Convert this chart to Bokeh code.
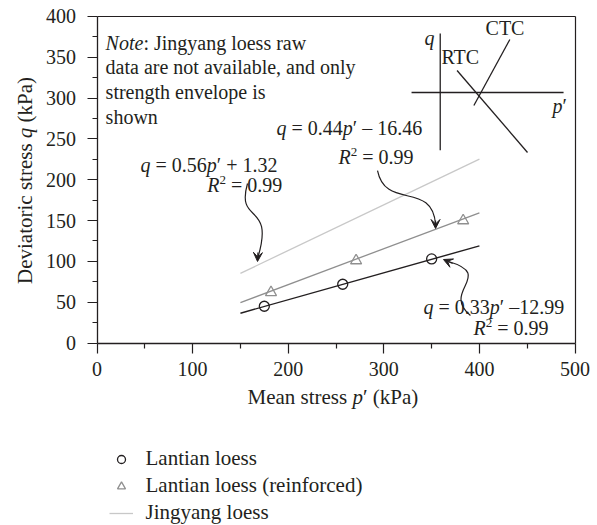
from math import pi

from bokeh.plotting import figure
from bokeh.models import (Range1d, FixedTicker, Label, Legend, LegendItem,
                          Arrow, VeeHead, LinearAxis)
from bokeh.embed import file_html
from bokeh.resources import INLINE

FONT = "Liberation Serif"
INK = "#231f20"
GREY = "#8f8f8f"
LIGHT = "#c8c8c8"

# Triaxial strength points, mean stress p' and deviatoric stress q (kPa)
lantian_p = [175, 257, 350]
lantian_q = [45, 72, 103]
reinforced_p = [182, 271, 383]
reinforced_q = [62, 101, 150]

# Linear strength envelopes q = slope * p' + intercept, drawn over this p' span
envelope_p = [150, 400]
lantian_fit = [0.33, -12.99]
reinforced_fit = [0.44, -16.46]
jingyang_fit = [0.56, 1.32]

x_ticks = [0, 100, 200, 300, 400, 500]
x_minor = [50, 150, 250, 350, 450]
y_ticks = [0, 50, 100, 150, 200, 250, 300, 350, 400]
y_minor = [25, 75, 125, 175, 225, 275, 325, 375]

series_names = ["Lantian loess", "Lantian loess (reinforced)", "Jingyang loess"]


def envelope(fit):
    return [fit[0] * p_ + fit[1] for p_ in envelope_p]


# advance widths (1/1000 em) of the serif face, used to chain mixed-style runs
ADV = {' ': 250, '(': 333, ')': 333, '.': 250, ',': 250, ':': 278, '=': 564,
       '+': 564, '\u2212': 564, '\u2013': 500, '\u2032': 275,
       'a': 444, 'b': 500, 'c': 444, 'd': 500, 'e': 444, 'f': 333, 'g': 500,
       'h': 500, 'i': 278, 'j': 278, 'k': 500, 'l': 278, 'm': 778, 'n': 500,
       'o': 500, 'p': 500, 'q': 500, 'r': 333, 's': 389, 't': 278, 'u': 500,
       'v': 500, 'w': 722, 'x': 500, 'y': 500, 'z': 444,
       'C': 667, 'D': 722, 'J': 389, 'M': 889, 'N': 722, 'P': 556, 'R': 667,
       'T': 611}
ADV_ITALIC = {'N': 667, 'R': 611, 'o': 500, 't': 278, 'e': 444, 'q': 500,
              'p': 500}
BASE_SHIFT = 7  # px, lifts runs so the drawn baseline sits on the anchor


def run_width(s, style, size):
    table = ADV_ITALIC if style == "i" else {}
    k = 0.65 if style == "sup" else 1.0
    return sum(table.get(c, ADV.get(c, 500)) for c in s) * size * k / 1000.0


def rich_text(plot, x, y, parts, size=20, angle=0.0, dy=0.0):
    """Place a sequence of (text, style) runs one after another."""
    off = 0.0
    for txt, style in parts:
        stripped = txt.lstrip(' ')
        lead = run_width(txt[:len(txt) - len(stripped)], style, size)
        core = stripped.rstrip(' ')
        pos = off + lead
        fs = size * 0.65 if style == "sup" else size
        rise = size * 0.27 if style == "sup" else 0.0
        if core:
            if angle:
                xo, yo = -(rise + BASE_SHIFT), pos + dy
            else:
                xo, yo = pos, dy + rise + BASE_SHIFT
            plot.add_layout(Label(
                x=x, y=y, x_offset=xo, y_offset=yo, text=core, angle=angle,
                text_font=FONT, text_font_size=f"{fs:.1f}px",
                text_font_style="italic" if style == "i" else "normal",
                text_color=INK, text_align="left",
                text_baseline="alphabetic"))
        off += run_width(txt, style, size)


# The frame spans the whole canvas; axes are pinned at the data origin.
p = figure(width=597, height=525, x_range=Range1d(-100.94, 523.5),
           y_range=Range1d(-223.57, 419.6), output_backend="svg",
           toolbar_location=None, min_border=0)

p.grid.visible = False
p.outline_line_color = None
p.background_fill_color = "white"
p.border_fill_color = "white"

p.xaxis.ticker = FixedTicker(ticks=x_ticks, minor_ticks=x_minor)
p.yaxis.ticker = FixedTicker(ticks=y_ticks, minor_ticks=y_minor)
p.xaxis.fixed_location = 0
p.yaxis.fixed_location = 0
p.xaxis.bounds = (0, 500)
p.yaxis.bounds = (0, 400)
for ax in (p.xaxis[0], p.yaxis[0]):
    ax.axis_line_color = INK
    ax.axis_line_width = 1.3
    ax.major_tick_line_color = INK
    ax.minor_tick_line_color = INK
    ax.major_tick_line_width = 1.2
    ax.minor_tick_line_width = 1.2
    ax.major_tick_in = 0
    ax.major_tick_out = 10
    ax.minor_tick_in = 0
    ax.minor_tick_out = 5
    ax.major_label_text_font = FONT
    ax.major_label_text_font_size = "20px"
    ax.major_label_text_color = INK
p.xaxis.major_label_standoff = 9
p.yaxis.major_label_standoff = 11

# closing frame edges (no ticks)
top_edge = LinearAxis(fixed_location=400, bounds=(0, 500),
                      ticker=FixedTicker(ticks=[]), axis_line_color=INK,
                      axis_line_width=1.2, major_tick_out=0, minor_tick_out=0)
right_edge = LinearAxis(fixed_location=500, bounds=(0, 400),
                        ticker=FixedTicker(ticks=[]), axis_line_color=INK,
                        axis_line_width=1.2, major_tick_out=0, minor_tick_out=0)
p.add_layout(top_edge, "above")
p.add_layout(right_edge, "right")

# strength envelopes and test points
r_jy = p.line(envelope_p, envelope(jingyang_fit), line_color=LIGHT,
              line_width=1.3)
p.line(envelope_p, envelope(reinforced_fit), line_color=GREY, line_width=1.3)
p.line(envelope_p, envelope(lantian_fit), line_color=INK, line_width=1.4)
r_rf = p.scatter(reinforced_p, reinforced_q, marker="triangle", size=11,
                 fill_color=None, line_color=GREY, line_width=1.3)
r_lt = p.scatter(lantian_p, lantian_q, marker="circle", size=10,
                 fill_color=None, line_color=INK, line_width=1.3)

# stress-path sketch (CTC / RTC) in the upper right corner
sketch = [
    (329, 306.9, 488, 306.9),
    (359.0, 379.1, 359.0, 236.0),
    (394.2, 291.0, 431.8, 371.8),
    (376.6, 333.8, 450.3, 233.4),
]
p.segment(x0=[s[0] for s in sketch], y0=[s[1] for s in sketch],
          x1=[s[2] for s in sketch], y1=[s[3] for s in sketch],
          line_color=INK, line_width=1.3)
rich_text(p, 342.5, 364.5, [("q", "i")])
rich_text(p, 406.4, 377.9, [("CTC", "r")])
rich_text(p, 360.3, 341.2, [("RTC", "r")])
rich_text(p, 476.5, 282.3, [("p", "i"), ("\u2032", "r")])

# note
note_lines = [
    [("Note", "i"), (": Jingyang loess raw", "r")],
    [("data are not available, and only", "r")],
    [("strength envelope is", "r")],
    [("shown", "r")],
]
for i, parts in enumerate(note_lines):
    rich_text(p, 9.0, 359.5, parts, dy=-24.7 * i)


def equation(x, y, fit, sign_gap=True):
    slope, icpt = fit
    sign = "+" if icpt >= 0 else "\u2013"
    gap = " " if sign_gap else ""
    rich_text(p, x, y, [("q", "i"), (f" = {slope:.2f}", "r"), ("p", "i"),
                        (f"\u2032 {sign}{gap}{abs(icpt):.2f}", "r")])


def r_squared(x, y, value="0.99"):
    rich_text(p, x, y, [("R", "i"), ("2", "sup"), (f" = {value}", "r")])


equation(187.8, 254.6, reinforced_fit)
r_squared(252.6, 219.0)
equation(45.5, 208.9, jingyang_fit)
r_squared(115.3, 184.7)
equation(341.5, 36.1, lantian_fit, sign_gap=False)
r_squared(393.8, 9.2)

# curved leader arrows from the equations to their envelopes
leaders = [
    # x0, y0, cx0, cy0, cx1, cy1, x1, y1, head start (x, y), head tip (x, y)
    (157.4, 195.4, 144.9, 143.9, 186.7, 174.6, 167.9, 103.5, (168.3, 111.0), (167.9, 99.9)),
    (293.4, 211.3, 301.8, 162.3, 350.9, 199.1, 354.1, 145.2, (354.1, 150.0), (354.1, 140.3)),
    (390.6, 33.7, 359.3, 64.3, 416.8, 82.7, 367.7, 99.8, (372.0, 97.4), (362.4, 102.3)),
]
p.bezier(x0=[l[0] for l in leaders], y0=[l[1] for l in leaders],
         cx0=[l[2] for l in leaders], cy0=[l[3] for l in leaders],
         cx1=[l[4] for l in leaders], cy1=[l[5] for l in leaders],
         x1=[l[6] for l in leaders], y1=[l[7] for l in leaders],
         line_color=INK, line_width=1.2)
for l in leaders:
    (hx0, hy0), (hx1, hy1) = l[8], l[9]
    p.add_layout(Arrow(end=VeeHead(size=9, fill_color=INK, line_color=INK,
                                   line_width=1),
                       x_start=hx0, y_start=hy0, x_end=hx1, y_end=hy1,
                       line_color=INK, line_width=1.2))

# axis titles with italic symbols
rich_text(p, -67.5, 72.3,
          [("Deviatoric stress ", "r"), ("q", "i"), (" (kPa)", "r")],
          size=21, angle=pi / 2)
rich_text(p, 157.4, -75.3,
          [("Mean stress ", "r"), ("p", "i"), ("\u2032 (kPa)", "r")], size=21)

legend = Legend(
    items=[LegendItem(label=series_names[0], renderers=[r_lt]),
           LegendItem(label=series_names[1], renderers=[r_rf]),
           LegendItem(label=series_names[2], renderers=[r_jy])],
    location=(104.5, -4), orientation="vertical",
    label_text_font=FONT, label_text_font_size="21px", label_text_color=INK,
    glyph_width=24, glyph_height=20, label_height=20, spacing=2,
    padding=4, margin=0, label_standoff=13,
    border_line_alpha=0, background_fill_alpha=0)
p.add_layout(legend)

open("out.html", "w").write(file_html(p, INLINE))
